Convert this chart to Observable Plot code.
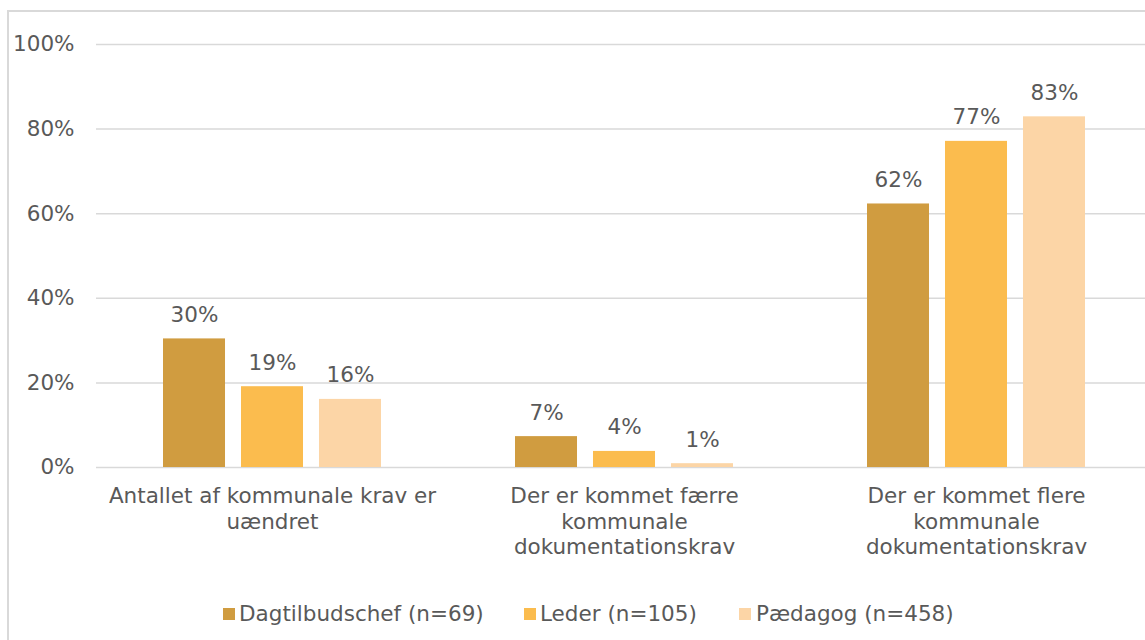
<!DOCTYPE html>
<html>
<head>
<meta charset="utf-8">
<script src="https://cdn.jsdelivr.net/npm/d3@7"></script>
<script src="https://cdn.jsdelivr.net/npm/@observablehq/plot@0.6"></script>
<style>
  html, body { margin: 0; padding: 0; background: #fff; overflow: hidden; }
  #wrap { position: relative; width: 1145px; height: 640px; overflow: hidden; font-family: "DejaVu Sans", Verdana, sans-serif; color: #595959; }
  #frame { position: absolute; left: 7px; top: 10px; width: 1300px; height: 800px; border: 2px solid #d9d9d9; box-sizing: border-box; }
  #chart { position: absolute; left: 0; top: 0; width: 1152px; }
  #chart svg { max-width: none !important; }
  #legend { position: absolute; left: 0; top: 601px; width: 1145px; height: 26px; }
  .item { position: absolute; top: 0; font-size: 21.5px; line-height: 26px; white-space: nowrap; }
  .sw { position: absolute; top: 7px; width: 12px; height: 12px; }
</style>
</head>
<body>
<div id="wrap">
  <div id="frame"></div>
  <div id="chart"></div>
  <div id="legend"></div>
</div>
<script>
const categories = [
  "Antallet af kommunale krav er\nuændret",
  "Der er kommet færre\nkommunale\ndokumentationskrav",
  "Der er kommet flere\nkommunale\ndokumentationskrav"
];
const series = ["Dagtilbudschef (n=69)", "Leder (n=105)", "Pædagog (n=458)"];
const colors = ["#D09C40", "#FBBC4E", "#FCD5A6"];
const dagtilbudschef = [30.4, 7.3, 62.3];
const leder = [19.1, 3.8, 77.1];
const paedagog = [16.1, 0.9, 82.9];
const yTicks = [0, 20, 40, 60, 80, 100];

const seriesValues = [dagtilbudschef, leder, paedagog];
const data = [];
categories.forEach((c, i) => {
  series.forEach((s, j) => {
    data.push({category: c, series: s, value: seriesValues[j][i]});
  });
});

const font = "DejaVu Sans, Verdana, sans-serif";

const chart = Plot.plot({
  width: 1152,
  height: 580,
  marginLeft: 96,
  marginRight: 0,
  marginTop: 44,
  marginBottom: 113,
  style: {fontFamily: font, fontSize: "21.5px", color: "#595959", background: "transparent", overflow: "visible", maxWidth: "none"},
  fx: {domain: categories, padding: 0, round: false, axis: null},
  x: {domain: series, paddingInner: 0.205, paddingOuter: 0.859, round: false, axis: null},
  y: {domain: [0, 100], axis: null},
  color: {domain: series, range: colors},
  marks: [
    Plot.ruleY(yTicks, {y: d => d, stroke: "#d9d9d9", strokeWidth: 1.5}),
    Plot.axisY(yTicks, {anchor: "left", label: null, tickSize: 0, tickPadding: 22, tickFormat: d => d + "%", fill: "#595959", fontSize: 21.5}),
    Plot.barY(data, {fx: "category", x: "series", y: "value", fill: "series"}),
    Plot.text(data, {fx: "category", x: "series", y: "value", text: d => Math.round(d.value) + "%", lineAnchor: "bottom", dy: -17, fill: "#595959", fontSize: 21.5}),
    Plot.text(categories, {fx: d => d, text: d => d, frameAnchor: "bottom", lineAnchor: "top", dy: 18, lineHeight: 1.17, fill: "#595959", fontSize: 21.5})
  ]
});
document.getElementById("chart").appendChild(chart);

const legendPos = [{sq: 223, tx: 239}, {sq: 524, tx: 540}, {sq: 739, tx: 756}];
const legend = document.getElementById("legend");
series.forEach((s, i) => {
  const sw = document.createElement("div");
  sw.className = "sw";
  sw.style.left = legendPos[i].sq + "px";
  sw.style.background = colors[i];
  legend.appendChild(sw);
  const t = document.createElement("div");
  t.className = "item";
  t.style.left = legendPos[i].tx + "px";
  t.textContent = s;
  legend.appendChild(t);
});
</script>
</body>
</html>
